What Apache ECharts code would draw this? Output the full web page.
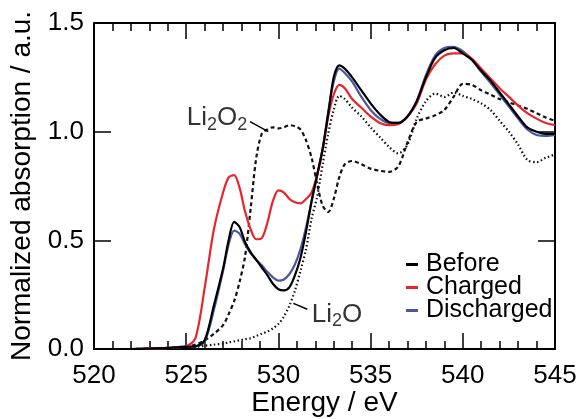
<!DOCTYPE html>
<html>
<head>
<meta charset="utf-8">
<script src="https://cdn.jsdelivr.net/npm/echarts@6/dist/echarts.min.js"></script>
<style>html,body{margin:0;padding:0;background:#fff;}#c{width:579px;height:419px;}</style>
</head>
<body>
<div id="c"></div>
<script>
const energy = [520,521,522,523,524,524.5,525,525.5,526,526.5,527,527.3,527.6,527.9,528.2,528.5,528.8,529.1,529.4,529.7,530,530.3,530.6,530.9,531.2,531.5,531.8,532.1,532.4,532.7,533,533.3,533.6,534,534.5,535,535.5,536,536.5,537,537.5,538,538.5,539,539.5,540,540.5,541,541.5,542,542.5,543,543.5,544,544.5,545];

const before = [0,0,0,0.002,0.005,0.008,0.01,0.012,0.04,0.2,0.37,0.5,0.585,0.56,0.49,0.445,0.41,0.375,0.34,0.3,0.275,0.27,0.285,0.34,0.42,0.54,0.68,0.8,0.92,1.08,1.25,1.305,1.29,1.25,1.19,1.13,1.08,1.045,1.04,1.07,1.14,1.25,1.34,1.375,1.385,1.36,1.33,1.28,1.235,1.18,1.125,1.07,1.02,1.0,0.99,0.99];

const charged = [0,0,0,0.002,0.005,0.008,0.012,0.05,0.28,0.55,0.72,0.79,0.8,0.74,0.63,0.55,0.505,0.51,0.58,0.68,0.73,0.72,0.69,0.675,0.67,0.69,0.72,0.8,0.92,1.07,1.17,1.215,1.2,1.15,1.11,1.07,1.04,1.03,1.035,1.07,1.13,1.24,1.31,1.35,1.36,1.36,1.335,1.29,1.245,1.2,1.16,1.12,1.085,1.06,1.04,1.03];

const discharged = [0,0,0,0.002,0.005,0.008,0.01,0.012,0.035,0.18,0.36,0.48,0.545,0.53,0.48,0.44,0.41,0.385,0.355,0.33,0.315,0.32,0.345,0.39,0.46,0.56,0.68,0.8,0.92,1.09,1.23,1.29,1.27,1.23,1.16,1.1,1.06,1.04,1.04,1.07,1.14,1.26,1.35,1.385,1.39,1.37,1.33,1.275,1.225,1.17,1.115,1.06,1.01,0.985,0.98,0.985];

const li2o2 = [0,0,0,0.002,0.005,0.008,0.012,0.02,0.04,0.07,0.11,0.16,0.22,0.31,0.43,0.65,0.88,0.99,1.01,1.02,1.015,1.02,1.03,1.025,1.01,0.96,0.88,0.76,0.66,0.63,0.69,0.79,0.85,0.865,0.85,0.83,0.82,0.815,0.84,0.95,1.045,1.06,1.075,1.1,1.16,1.22,1.215,1.19,1.17,1.15,1.135,1.12,1.105,1.085,1.065,1.05];

const li2o = [0,0,0,0,0.003,0.005,0.008,0.01,0.015,0.02,0.025,0.03,0.035,0.04,0.045,0.05,0.06,0.07,0.08,0.095,0.115,0.15,0.2,0.27,0.36,0.46,0.6,0.7,0.85,0.99,1.1,1.165,1.15,1.11,1.07,1.02,0.975,0.93,0.9,0.94,1.06,1.14,1.175,1.16,1.18,1.165,1.15,1.13,1.1,1.05,1.0,0.94,0.87,0.86,0.88,0.895];

const seriesNames = ['Before','Charged','Discharged'];
const xTicks = [520,525,530,535,540,545];
const yTicks = [0.0,0.5,1.0,1.5];

// annotations: label anchor, leader start, leader end (data coordinates)
const annLi2O2 = {pos:[526.67,1.062], from:[528.46,1.046], to:[529.45,1.0]};
const annLi2O = {pos:[533.18,0.157], from:[530.81,0.21], to:[531.57,0.183]};

const FONT = '"Liberation Sans", Arial, Helvetica, sans-serif';
const pair = ys => energy.map((e,i)=>[e,ys[i]]);

function xAxisCfg(pos, labels) {
  const a = {
    type: 'value', position: pos, min: xTicks[0], max: xTicks[xTicks.length-1], interval: 5,
    axisLine: {show:true, onZero:false, lineStyle:{color:'#000', width:2}},
    axisTick: {show:true, inside:true, length:16, lineStyle:{color:'#000', width:1.5}},
    minorTick: {show:true, splitNumber:5, length:8, lineStyle:{color:'#000', width:1.5}},
    splitLine: {show:false},
    axisLabel: {show: labels, fontSize: 26, fontFamily: FONT, color:'#000', margin: 14}
  };
  if (labels) {
    a.name = 'Energy / eV'; a.nameLocation = 'middle'; a.nameGap = 54;
    a.nameMoveOverlap = false;
    a.nameTextStyle = {fontSize: 28, fontFamily: FONT, color:'#000', verticalAlign: 'middle'};
  }
  return a;
}
function yAxisCfg(pos, labels) {
  const a = {
    type: 'value', position: pos, min: yTicks[0], max: yTicks[yTicks.length-1], interval: 0.5,
    axisLine: {show:true, onZero:false, lineStyle:{color:'#000', width:2}},
    axisTick: {show:true, inside:true, length:17, lineStyle:{color:'#000', width:1.5}},
    splitLine: {show:false},
    axisLabel: {show: labels, fontSize: 26, fontFamily: FONT, color:'#000', margin: 10,
      formatter: v => v.toFixed(1)}
  };
  if (labels) {
    a.name = 'Normalized absorption / a.u.'; a.nameLocation = 'middle'; a.nameGap = 58;
    a.nameTextStyle = {fontSize: 28, fontFamily: FONT, color:'#000'};
  }
  return a;
}

const sub = () => ({
  n: {fontSize: 26, lineHeight: 30, color:'#000', fontFamily: FONT},
  s: {fontSize: 18, lineHeight: 30, padding:[13,0,0,0], color:'#000', fontFamily: FONT}
});

const chart = echarts.init(document.getElementById('c'), null, {renderer:'canvas'});
chart.setOption({
  animation: false,
  grid: {left: 94, right: 24, top: 23, bottom: 70, outerBoundsMode: 'none'},
  legend: {
    data: seriesNames,
    orient: 'vertical', left: 401, top: 247,
    icon: 'rect', itemWidth: 12, itemHeight: 3, itemGap: -2,
    textStyle: {fontSize: 25, fontFamily: FONT, color: '#000', lineHeight: 21, padding:[0,0,0,3]},
    selectedMode: false
  },
  xAxis: [xAxisCfg('bottom', true), xAxisCfg('top', false)],
  yAxis: [yAxisCfg('left', true), yAxisCfg('right', false)],
  series: [
    {name:'Li2O2', type:'line', data: pair(li2o2), showSymbol:false, smooth:0.3,
      lineStyle:{color:'#111', width:2.2, type:[4,3]}},
    {name:'Li2O', type:'line', data: pair(li2o), showSymbol:false, smooth:0.3,
      lineStyle:{color:'#111', width:2.2, type:[1.5,2.5]}},
    {name:'Discharged', type:'line', data: pair(discharged), showSymbol:false, smooth:0.3,
      lineStyle:{color:'#4b55a0', width:2.2}, itemStyle:{color:'#4b55a0'}},
    {name:'Charged', type:'line', data: pair(charged), showSymbol:false, smooth:0.3,
      lineStyle:{color:'#e8242c', width:2.2}, itemStyle:{color:'#e8242c'}},
    {name:'Before', type:'line', data: pair(before), showSymbol:false, smooth:0.3,
      lineStyle:{color:'#000', width:2.2}, itemStyle:{color:'#000'}},
    {name:'annotations', type:'scatter', symbolSize: 0, silent:true,
      data: [
        {value: annLi2O2.pos, label:{show:true, position:'inside', formatter:'{n|Li}{s|2}{n|O}{s|2}', rich: sub()}},
        {value: annLi2O.pos, label:{show:true, position:'inside', formatter:'{n|Li}{s|2}{n|O}', rich: sub()}}
      ],
      markLine: {
        silent: true, symbol: ['none','none'], animation:false,
        lineStyle: {color:'#000', width:1.5, type:'solid'},
        label: {show:false},
        data: [
          [{coord: annLi2O2.from}, {coord: annLi2O2.to}],
          [{coord: annLi2O.from}, {coord: annLi2O.to}]
        ]
      }
    }
  ]
});
</script>
</body>
</html>
